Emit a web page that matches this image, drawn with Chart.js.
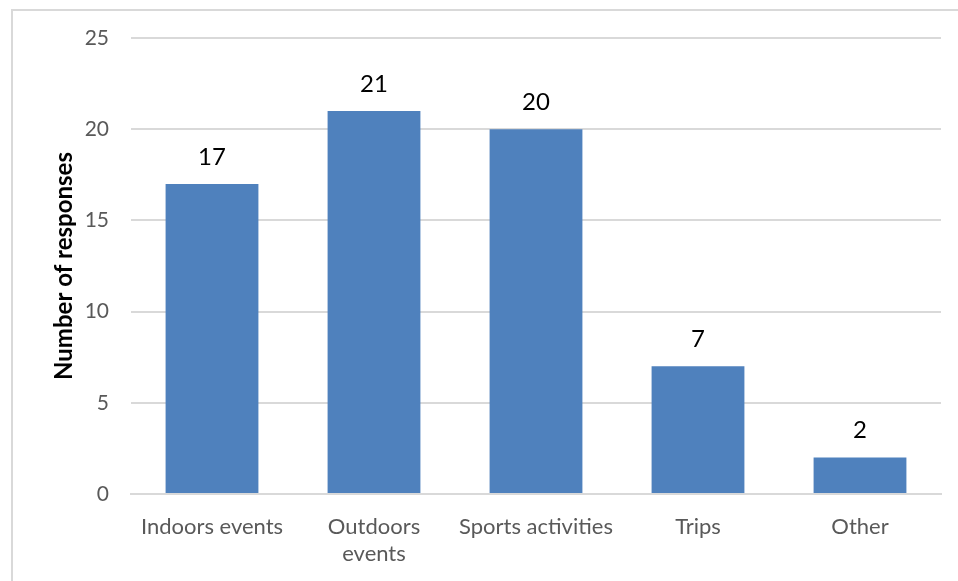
<!DOCTYPE html>
<html>
<head>
<meta charset="utf-8">
<script src="https://cdn.jsdelivr.net/npm/chart.js@4"></script>
<style>
  html, body { margin: 0; padding: 0; background: #fff; }
  #frame {
    position: absolute; left: 11px; top: 9px; width: 1000px; height: 700px;
    border-left: 2px solid #d9d9d9; border-top: 2px solid #d9d9d9;
  }
  #output { position: absolute; left: 0; top: 0; }
</style>
</head>
<body>
<div id="frame"></div>
<canvas id="output" width="958" height="581"></canvas>
<script>
const categories = [['Indoors events'], ['Outdoors', 'events'], ['Sports activities'], ['Trips'], ['Other']];
const responses = [17, 21, 20, 7, 2];
const yTicks = [0, 5, 10, 15, 20, 25];

const FONT = 'Lato, "Open Sans", sans-serif';

// writes the value above each bar
const barLabels = {
    id: 'barLabels',
    afterDatasetsDraw(chart) {
        const ctx = chart.ctx;
        const meta = chart.getDatasetMeta(0);
        ctx.save();
        ctx.font = '24px ' + FONT;
        ctx.fillStyle = '#000';
        ctx.textAlign = 'center';
        ctx.textBaseline = 'middle';
        meta.data.forEach((bar, i) => {
            ctx.fillText(String(responses[i]), bar.x, bar.y - 27);
        });
        ctx.restore();
    }
};

const ctx = document.getElementById('output').getContext('2d');

new Chart(ctx, {
    type: 'bar',
    data: {
        labels: categories,
        datasets: [{
            data: responses,
            backgroundColor: '#4f81bd',
            borderWidth: 0,
            barPercentage: 0.573,
            categoryPercentage: 1
        }]
    },
    options: {
        responsive: false,
        animation: false,
        layout: { padding: { left: 50, top: 38, right: 17, bottom: 0 } },
        plugins: {
            legend: { display: false },
            tooltip: { enabled: false }
        },
        scales: {
            x: {
                grid: { display: false, drawTicks: false },
                border: { color: '#d9d9d9', width: 2 },
                ticks: {
                    color: '#595959',
                    font: { family: FONT, size: 22, lineHeight: 1.23 },
                    padding: 19,
                    maxRotation: 0,
                    autoSkip: false
                },
                afterFit(scale) { scale.height = 87; }
            },
            y: {
                min: 0,
                max: 25,
                afterBuildTicks(scale) { scale.ticks = yTicks.map(v => ({ value: v })); },
                grid: { color: '#d9d9d9', lineWidth: 2, drawTicks: false },
                border: { display: false },
                ticks: {
                    color: '#595959',
                    font: { family: FONT, size: 21 },
                    padding: 22
                },
                title: {
                    display: true,
                    text: 'Number of responses',
                    color: '#000',
                    font: { family: FONT, size: 24, weight: 'bold' },
                    padding: 0
                },
                afterFit(scale) { scale.width = 81; }
            }
        }
    },
    plugins: [barLabels]
});
</script>
</body>
</html>
